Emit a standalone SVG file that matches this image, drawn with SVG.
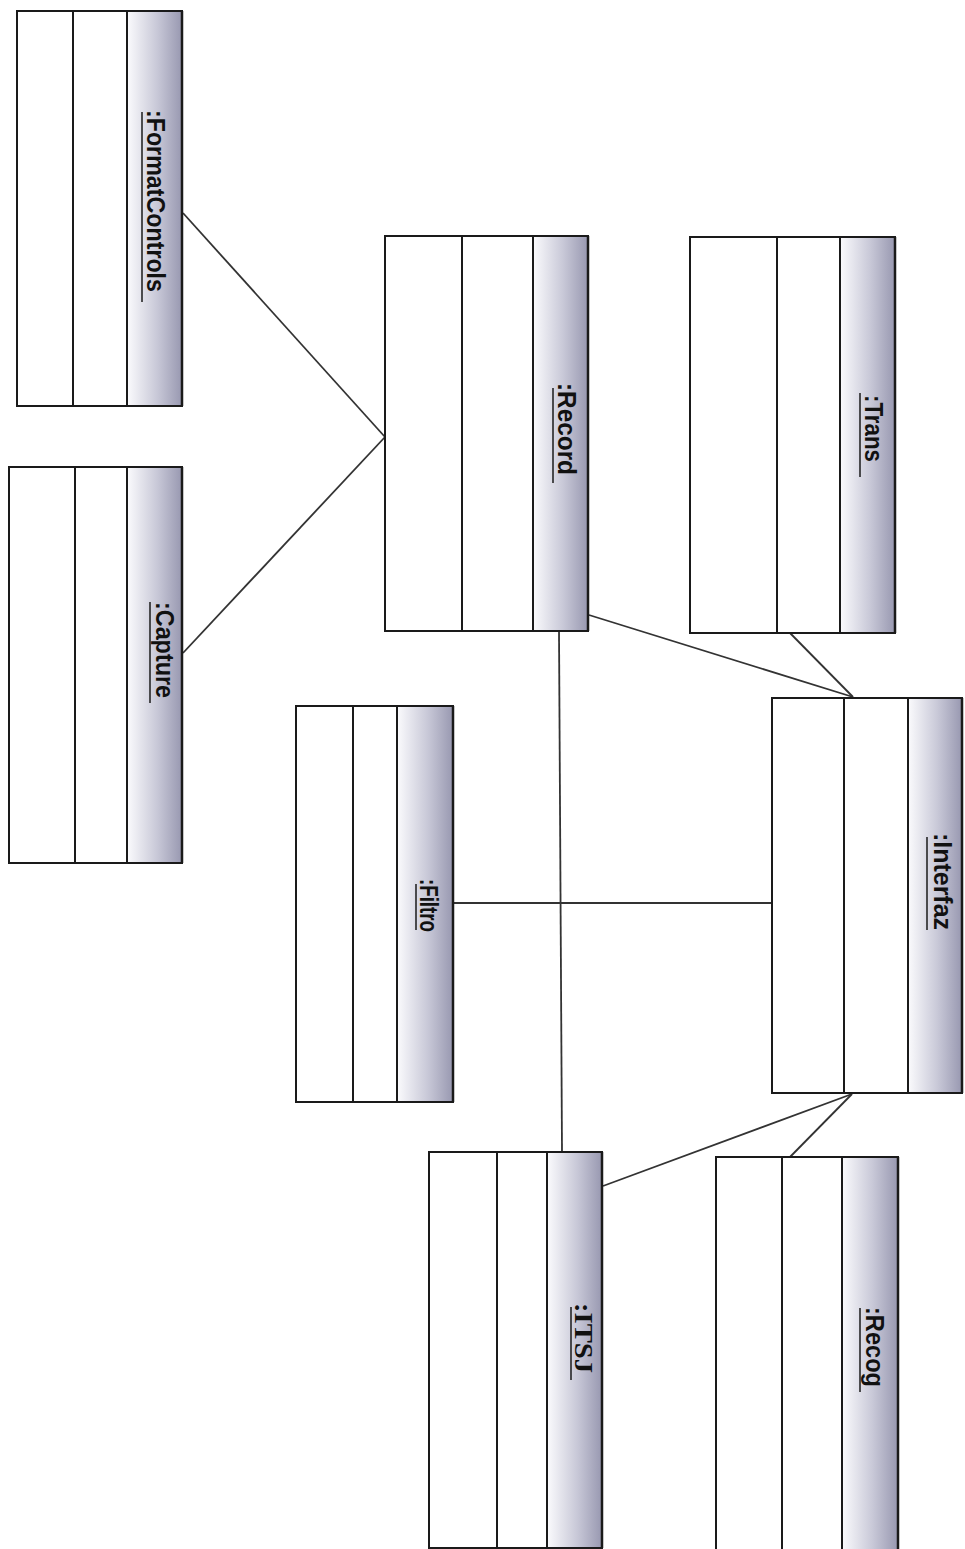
<svg xmlns="http://www.w3.org/2000/svg" width="965" height="1549" viewBox="0 0 965 1549">
<defs>
<linearGradient id="hg" x1="0" y1="0" x2="1" y2="0">
<stop offset="0" stop-color="#fbfbfd"/>
<stop offset="0.55" stop-color="#c9c9d8"/>
<stop offset="1" stop-color="#9a9ab2"/>
</linearGradient>
</defs>
<style>
.body{fill:#ffffff;stroke:#1a1a1a;stroke-width:2}
.hdr{fill:url(#hg);stroke:none}
.div{stroke:#1a1a1a;stroke-width:2}
.edge{stroke:#1a1a1a;stroke-width:2.5}
.ul{stroke:#1a1a1a;stroke-width:1.5}
.lbl{font-family:"Liberation Sans",Arial,sans-serif;font-weight:bold;font-size:26px;fill:#111}
.lbls{font-family:"Liberation Serif","Times New Roman",serif;font-weight:bold;font-size:26px;fill:#111}
.conn line{stroke:#333;stroke-width:1.8}
</style>
<rect width="965" height="1549" fill="#ffffff"/>

<g id="connectors" class="conn">
<line x1="183" y1="213" x2="385" y2="437"/>
<line x1="183" y1="653" x2="385" y2="437"/>
<line x1="589" y1="615" x2="853" y2="697"/>
<line x1="790" y1="633" x2="853" y2="697"/>
<line x1="559" y1="631" x2="562" y2="1152"/>
<line x1="453" y1="903" x2="772" y2="903"/>
<line x1="852" y1="1094" x2="603" y2="1186"/>
<line x1="852" y1="1094" x2="790" y2="1157"/>
</g>

<g id="node-formatcontrols">
<rect class="body" x="17" y="11" width="165" height="395"/>
<rect class="hdr" x="127" y="12" width="54" height="393"/>
<line class="edge" x1="182" y1="11" x2="182" y2="406"/>
<line class="div" x1="73" y1="11" x2="73" y2="406"/>
<line class="div" x1="127" y1="11" x2="127" y2="406"/>
<text class="lbl" transform="translate(147,110) rotate(90)" textLength="182" lengthAdjust="spacingAndGlyphs">:FormatControls</text>
<line class="ul" x1="142" y1="112" x2="142" y2="302"/>
</g>

<g id="node-capture">
<rect class="body" x="9" y="467" width="173" height="396"/>
<rect class="hdr" x="127" y="468" width="54" height="394"/>
<line class="edge" x1="182" y1="467" x2="182" y2="863"/>
<line class="div" x1="75" y1="467" x2="75" y2="863"/>
<line class="div" x1="127" y1="467" x2="127" y2="863"/>
<text class="lbl" transform="translate(156,602) rotate(90)" textLength="96" lengthAdjust="spacingAndGlyphs">:Capture</text>
<line class="ul" x1="150" y1="602" x2="150" y2="703"/>
</g>

<g id="node-record">
<rect class="body" x="385" y="236" width="203" height="395"/>
<rect class="hdr" x="533" y="237" width="54" height="393"/>
<line class="edge" x1="588" y1="236" x2="588" y2="631"/>
<line class="div" x1="462" y1="236" x2="462" y2="631"/>
<line class="div" x1="533" y1="236" x2="533" y2="631"/>
<text class="lbl" transform="translate(558,383) rotate(90)" textLength="92" lengthAdjust="spacingAndGlyphs">:Record</text>
<line class="ul" x1="553" y1="388" x2="553" y2="483"/>
</g>

<g id="node-trans">
<rect class="body" x="690" y="237" width="205" height="396"/>
<rect class="hdr" x="840" y="238" width="54" height="394"/>
<line class="edge" x1="895" y1="237" x2="895" y2="633"/>
<line class="div" x1="777" y1="237" x2="777" y2="633"/>
<line class="div" x1="840" y1="237" x2="840" y2="633"/>
<text class="lbl" transform="translate(865,395) rotate(90)" textLength="67" lengthAdjust="spacingAndGlyphs">:Trans</text>
<line class="ul" x1="860" y1="393" x2="860" y2="477"/>
</g>

<g id="node-filtro">
<rect class="body" x="296" y="706" width="157" height="396"/>
<rect class="hdr" x="397" y="707" width="55" height="394"/>
<line class="edge" x1="453" y1="706" x2="453" y2="1102"/>
<line class="div" x1="353" y1="706" x2="353" y2="1102"/>
<line class="div" x1="397" y1="706" x2="397" y2="1102"/>
<text class="lbl" transform="translate(420,879) rotate(90)" textLength="53" lengthAdjust="spacingAndGlyphs">:Filtro</text>
<line class="ul" x1="416" y1="884" x2="416" y2="930"/>
</g>

<g id="node-interfaz">
<rect class="body" x="772" y="698" width="190" height="395"/>
<rect class="hdr" x="908" y="699" width="53" height="393"/>
<line class="edge" x1="962" y1="698" x2="962" y2="1093"/>
<line class="div" x1="844" y1="698" x2="844" y2="1093"/>
<line class="div" x1="908" y1="698" x2="908" y2="1093"/>
<text class="lbl" transform="translate(934,833) rotate(90)" textLength="97" lengthAdjust="spacingAndGlyphs">:Interfaz</text>
<line class="ul" x1="927" y1="837" x2="927" y2="930"/>
</g>

<g id="node-itsj">
<rect class="body" x="429" y="1152" width="173" height="396"/>
<rect class="hdr" x="547" y="1153" width="54" height="394"/>
<line class="edge" x1="602" y1="1152" x2="602" y2="1548"/>
<line class="div" x1="497" y1="1152" x2="497" y2="1548"/>
<line class="div" x1="547" y1="1152" x2="547" y2="1548"/>
<text class="lbls" transform="translate(575,1303) rotate(90)" textLength="70" lengthAdjust="spacingAndGlyphs">:ITSJ</text>
<line class="ul" x1="571" y1="1307" x2="571" y2="1380"/>
</g>

<g id="node-recog">
<rect class="body" x="716" y="1157" width="182" height="396"/>
<rect class="hdr" x="842" y="1158" width="55" height="394"/>
<line class="edge" x1="898" y1="1157" x2="898" y2="1553"/>
<line class="div" x1="782" y1="1157" x2="782" y2="1553"/>
<line class="div" x1="842" y1="1157" x2="842" y2="1553"/>
<text class="lbl" transform="translate(866,1307) rotate(90)" textLength="80" lengthAdjust="spacingAndGlyphs">:Recog</text>
<line class="ul" x1="860" y1="1308" x2="860" y2="1392"/>
</g>
</svg>
